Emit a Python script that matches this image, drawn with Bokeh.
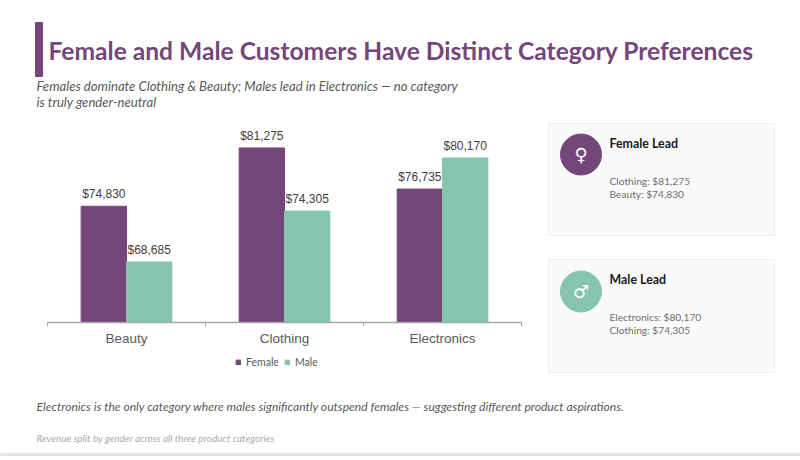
from bokeh.plotting import figure
from bokeh.layouts import column, row
from bokeh.embed import file_html
from bokeh.resources import INLINE
from bokeh.models import (Range1d, LinearAxis, FixedTicker, Legend, LegendItem, ColumnDataSource)
from bokeh.core.properties import value

categories = ["Beauty", "Clothing", "Electronics"]
female = [74830, 81275, 76735]
male = [68685, 74305, 80170]
title_text = "Female and Male Customers Have Distinct Category Preferences"
subtitle_lines = ["Females dominate Clothing & Beauty; Males lead in Electronics \u2014 no category",
                  "is truly gender-neutral"]
note_text = "Electronics is the only category where males significantly outspend females \u2014 suggesting different product aspirations."
foot_text = "Revenue split by gender across all three product categories"

PURPLE = "#74467A"
TEAL = "#85C5AE"
BODY = "Lato"
CHART = "Liberation Sans"


def money(v):
    return f"${v:,}"


def panel(w, h, x0, y0):
    """Blank figure whose data coordinates are page pixels."""
    f = figure(width=w, height=h, x_range=Range1d(x0, x0 + w), y_range=Range1d(y0 + h, y0),
               x_axis_location=None, y_axis_location=None, toolbar_location=None,
               output_backend="svg", min_border=0, outline_line_color=None, frame_align=False,
               background_fill_color="white", border_fill_color="white")
    f.grid.visible = False
    return f


def txt(f, x, y, s, size, color, font=BODY, style="normal", align="left"):
    f.text([x], [y], text=[s], text_font=value(font), text_font_size=f"{size}px",
           text_font_style=style, text_color=color, text_align=align, text_baseline="middle")


# ---- header
head = panel(800, 112, 0, 0)
head.quad(left=[35], right=[42], top=[22], bottom=[76], color=PURPLE)
txt(head, 48, 49.5, title_text, 24.6, PURPLE, style="bold")
txt(head, 36, 85, subtitle_lines[0], 13.15, "#595959", style="italic")
txt(head, 36, 101, subtitle_lines[1], 13.15, "#595959", style="italic")

# ---- chart
off = 0.1435
bw = 0.287
centers = [i + 0.5 for i in range(len(categories))]
src = ColumnDataSource(dict(xf=[c - off for c in centers], xm=[c + off for c in centers],
                            female=female, male=male,
                            flab=[money(v) for v in female], mlab=[money(v) for v in male]))
p = figure(width=536, height=240, x_range=Range1d(0, len(categories)), y_range=Range1d(62000, 85190),
           x_axis_location=None, y_axis_location=None, toolbar_location=None,
           output_backend="svg", min_border_left=47, min_border_right=15,
           min_border_top=0, min_border_bottom=30, outline_line_color=None, frame_align=False,
           background_fill_color="white", border_fill_color="white")
p.grid.visible = False
p.vbar(x="xf", top="female", bottom=62000, width=bw, source=src, color=PURPLE)
p.vbar(x="xm", top="male", bottom=62000, width=bw, source=src, color=TEAL)
for xc, col, lab in (("xf", "female", "flab"), ("xm", "male", "mlab")):
    p.text(x=xc, y=col, text=lab, source=src, y_offset=-5,
           text_font=value(CHART), text_font_size="12px", text_color="#404040",
           text_align="center", text_baseline="bottom")

tick_axis = LinearAxis(ticker=FixedTicker(ticks=list(range(len(categories) + 1))),
                       major_label_text_font_size="1px", major_label_text_color=None,
                       major_label_standoff=0,
                       axis_line_color="#A6A6A6", axis_line_width=1.5,
                       major_tick_line_color="#A6A6A6", major_tick_line_width=1,
                       major_tick_in=0, major_tick_out=4, minor_tick_line_color=None)
p.add_layout(tick_axis, "below")
cat_axis = LinearAxis(ticker=FixedTicker(ticks=centers),
                      major_label_overrides=dict(zip(centers, categories)),
                      axis_line_color=None, major_tick_line_color=None,
                      minor_tick_line_color=None, major_label_standoff=-2,
                      major_label_text_font=CHART, major_label_text_font_size="13.5px",
                      major_label_text_color="#595959")
p.add_layout(cat_axis, "below")

# ---- legend strip under the chart (keys sit left of the visible strip; only the legend shows them)
leg = panel(536, 24, 0, 352)
k1 = leg.quad(left=[-20], right=[-10], top=[360], bottom=[365], color=PURPLE)
k2 = leg.quad(left=[-20], right=[-10], top=[360], bottom=[365], color=TEAL)
legend = Legend(items=[LegendItem(label="Female", renderers=[k1]), LegendItem(label="Male", renderers=[k2])],
                orientation="horizontal", location=(235, 8), border_line_color=None,
                background_fill_alpha=0, margin=0, padding=2, spacing=5,
                glyph_width=6, glyph_height=6, label_standoff=5,
                label_text_font=BODY, label_text_font_size="10.5px", label_text_color="#595959")
leg.add_layout(legend)

# ---- cards
cards = panel(264, 264, 536, 112)


def card(top, bottom, cy, color, symbol, heading, lines):
    cards.quad(left=[548], right=[774], top=[top], bottom=[bottom], fill_color="#FAFAFA",
               line_color="#EDEDED", line_width=1)
    cards.circle([580.5], [cy], radius=20.5, color=color)
    txt(cards, 580.5, cy, symbol, 18, "white", font="DejaVu Sans", align="center")
    txt(cards, 609, top + 20, heading, 12.4, "#1A1A1A", style="bold")
    for i, s in enumerate(lines):
        txt(cards, 609, top + 57 + 13.5 * i, s, 10.2, "#6E6E6E")


card(123, 235, 154, PURPLE, "\u2640", "Female Lead",
     [f"{categories[1]}: {money(female[1])}", f"{categories[0]}: {money(female[0])}"])
card(259, 372, 291, TEAL, "\u2642", "Male Lead",
     [f"{categories[2]}: {money(male[2])}", f"{categories[1]}: {money(male[1])}"])

# ---- footer
foot = panel(800, 84, 0, 376)
txt(foot, 36, 406, note_text, 12.1, "#595959", style="italic")
txt(foot, 36, 437, foot_text, 9.9, "#AAAAAA", style="italic")
foot.quad(left=[0], right=[800], top=[453], bottom=[455], color="#E4E4E4")

page = column(head, row(column(p, leg, spacing=0), cards, spacing=0), foot, spacing=0)
open("out.html", "w").write(file_html(page, INLINE))
